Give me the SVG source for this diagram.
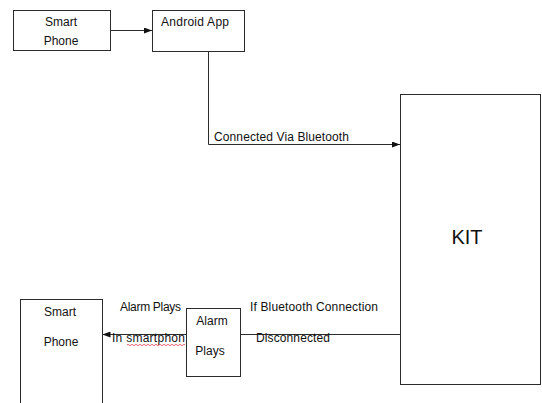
<svg xmlns="http://www.w3.org/2000/svg" width="542" height="403" viewBox="0 0 542 403">
<style>
.box{fill:#fff;stroke:#2b2b2b;stroke-width:1}
.ln{fill:none;stroke:#2b2b2b;stroke-width:1}
text{font-family:"Liberation Sans",Arial,sans-serif;font-size:12px;fill:#111}
.big{font-size:20px}
</style>
<defs>
<marker id="ah" markerWidth="8" markerHeight="6" refX="8" refY="3" orient="auto" markerUnits="userSpaceOnUse">
<path d="M0,0 L8,3 L0,6 Z" fill="#111"/>
</marker>
</defs>
<rect width="542" height="403" fill="#fff"/>
<g id="connectors">
<line class="ln" x1="110.5" y1="30.5" x2="152" y2="30.5" marker-end="url(#ah)"/>
<polyline class="ln" points="208.5,52 208.5,144.5 400,144.5" marker-end="url(#ah)"/>
<line class="ln" x1="400" y1="334.5" x2="240.5" y2="334.5"/>
<line class="ln" x1="186" y1="334.5" x2="102.5" y2="334.5" marker-end="url(#ah)"/>
</g>
<g id="smartphone1">
<rect class="box" x="13.5" y="10.5" width="97" height="40"/>
<text x="61" y="26" text-anchor="middle">Smart</text>
<text x="61" y="45" text-anchor="middle">Phone</text>
</g>
<g id="androidapp">
<rect class="box" x="152.5" y="10.5" width="92" height="41"/>
<text x="161" y="26" textLength="68">Android App</text>
</g>
<g id="kit">
<rect class="box" x="400.5" y="94.5" width="140" height="290"/>
<text class="big" x="467" y="244" text-anchor="middle">KIT</text>
</g>
<g id="smartphone2">
<rect class="box" x="20.5" y="299.5" width="82" height="110"/>
<text x="60" y="316" text-anchor="middle">Smart</text>
<text x="61" y="346" text-anchor="middle">Phone</text>
</g>
<g id="alarm">
<rect class="box" x="186.5" y="308.5" width="54" height="68"/>
<text x="212" y="325" text-anchor="middle">Alarm</text>
<text x="210" y="355" text-anchor="middle">Plays</text>
</g>
<g id="labels">
<text x="214" y="141" textLength="135">Connected Via Bluetooth</text>
<text x="120" y="311" textLength="61">Alarm Plays</text>
<text x="250" y="311" textLength="128">If Bluetooth Connection</text>
<text x="112" y="342" textLength="73">In smartphon</text>
<text x="256" y="342" textLength="74">Disconnected</text>
<path d="M127,345 q1,-1.5 2,0 t2,0 t2,0 t2,0 t2,0 t2,0 t2,0 t2,0 t2,0 t2,0 t2,0 t2,0 t2,0 t2,0 t2,0 t2,0 t2,0 t2,0 t2,0 t2,0 t2,0 t2,0 t2,0 t2,0 t2,0 t2,0 t2,0 t2,0 t2,0" fill="none" stroke="#d23" stroke-width="0.7"/>
</g>
</svg>
